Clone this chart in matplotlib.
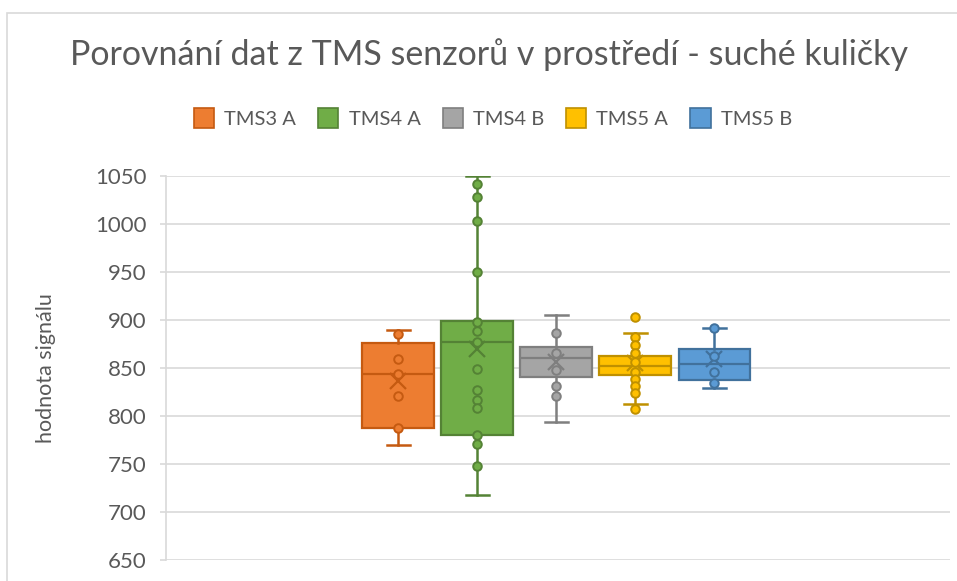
import matplotlib
matplotlib.use("Agg")
import matplotlib.pyplot as plt
from matplotlib.patches import Patch, Rectangle

# ---- data ----
series = ["TMS3 A", "TMS4 A", "TMS4 B", "TMS5 A", "TMS5 B"]
whis_low = [770, 718, 794, 812, 829]
q1 = [788, 780, 841, 843, 837]
median = [844, 877, 860, 852, 854]
q3 = [876, 899, 872, 863, 870]
whis_high = [890, 1050, 905, 886, 892]
means = [836, 870, 856, 855, 859]
points = [
    [885, 859, 844, 821, 788],
    [1042, 1028, 1003, 950, 898, 889, 877, 849, 827, 817, 808, 780, 771, 748],
    [886, 866, 848, 831, 821],
    [903, 882, 874, 866, 856, 846, 839, 831, 824, 807],
    [892, 862, 846, 834],
]
fill_colors = ["#ED7D31", "#70AD47", "#A5A5A5", "#FFC000", "#5B9BD5"]
edge_colors = ["#C55A11", "#548235", "#7F7F7F", "#BF9000", "#41719C"]
title = "Porovnání dat z TMS senzorů v prostředí - suché kuličky"
ylabel = "hodnota signálu"
yticks = [650, 700, 750, 800, 850, 900, 950, 1000, 1050]

plt.rcParams["font.family"] = ["Lato", "DejaVu Sans"]
text_color = "#595959"
grid_color = "#D9D9D9"

fig = plt.figure(figsize=(9.57, 5.81), dpi=100)
ax = fig.add_axes([166 / 957, 1 - 560 / 581, (950 - 166) / 957, (560 - 176) / 581])

positions = list(range(len(series)))
for i in positions:
    stats = [dict(med=median[i], q1=q1[i], q3=q3[i], whislo=whis_low[i],
                  whishi=whis_high[i], mean=means[i], fliers=[], label=series[i])]
    ax.bxp(stats, positions=[i], widths=0.91, capwidths=0.3, patch_artist=True,
           showmeans=True, manage_ticks=False,
           boxprops=dict(facecolor=fill_colors[i], edgecolor=edge_colors[i], linewidth=1.6),
           medianprops=dict(color=edge_colors[i], linewidth=1.6),
           whiskerprops=dict(color=edge_colors[i], linewidth=1.8),
           capprops=dict(color=edge_colors[i], linewidth=1.8),
           meanprops=dict(marker="x", markeredgecolor=edge_colors[i], markersize=11,
                          markeredgewidth=1.6),
           zorder=3)
    ax.scatter([i] * len(points[i]), points[i], s=38, facecolor=fill_colors[i],
               edgecolor=edge_colors[i], linewidth=1.4, zorder=4)

ax.set_xlim(-2.94, 6.98)
ax.set_ylim(650, 1050)
ax.set_yticks(yticks)
ax.set_xticks([])
ax.yaxis.grid(True, color=grid_color, linewidth=1.2, zorder=0)
ax.set_axisbelow(True)
for s in ["top", "right", "bottom"]:
    ax.spines[s].set_visible(False)
ax.spines["left"].set_color(grid_color)
ax.spines["left"].set_linewidth(1.2)
ax.tick_params(axis="y", colors=grid_color, labelcolor=text_color, labelsize=16,
               length=4, width=1.2, pad=10)
ax.set_ylabel(ylabel, color=text_color, fontsize=15.5, labelpad=28)

fig.text(489 / 957, 1 - 55 / 581, title, ha="center", va="center",
         fontsize=24.5, color=text_color)

handles = [Patch(facecolor=fc, edgecolor=ec, linewidth=1.2)
           for fc, ec in zip(fill_colors, edge_colors)]
fig.legend(handles, series, loc="center", bbox_to_anchor=(493 / 957, 1 - 118 / 581),
           ncol=5, frameon=False, fontsize=14.5, labelcolor=text_color,
           handlelength=1.0, handleheight=1.1, handletextpad=0.5, columnspacing=1.1)

fig.add_artist(Rectangle((7 / 957, -0.1), 1.2, 1.1 - 13 / 581 + 0.0,
                         transform=fig.transFigure, fill=False,
                         edgecolor=grid_color, linewidth=1.2))

fig.savefig("out.png", dpi=100)
